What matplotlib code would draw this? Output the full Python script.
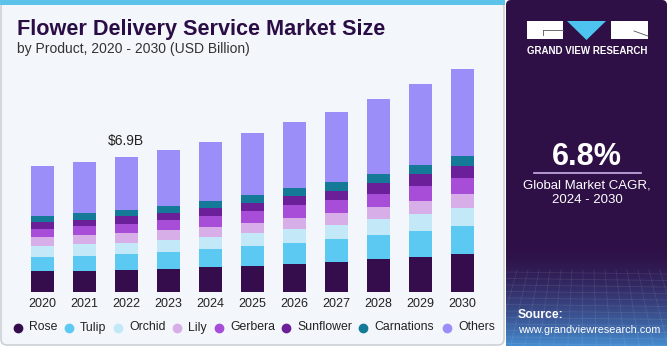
import matplotlib
matplotlib.use('Agg')
import matplotlib.pyplot as plt
import numpy as np
from matplotlib.patches import FancyBboxPatch, Rectangle, Polygon
from matplotlib.lines import Line2D

years = [str(y) for y in range(2020, 2031)]
rose = [1.07, 1.10, 1.15, 1.19, 1.27, 1.35, 1.46, 1.56, 1.68, 1.80, 1.95]
tulip = [0.74, 0.76, 0.80, 0.87, 0.92, 1.00, 1.07, 1.14, 1.22, 1.32, 1.42]
orchid = [0.54, 0.60, 0.58, 0.61, 0.64, 0.68, 0.68, 0.74, 0.81, 0.87, 0.90]
lily = [0.44, 0.44, 0.49, 0.51, 0.51, 0.51, 0.58, 0.60, 0.63, 0.68, 0.73]
gerbera = [0.44, 0.46, 0.46, 0.51, 0.54, 0.60, 0.63, 0.65, 0.68, 0.75, 0.80]
sunflower = [0.34, 0.34, 0.41, 0.37, 0.41, 0.39, 0.46, 0.49, 0.53, 0.58, 0.63]
carnations = [0.31, 0.32, 0.31, 0.34, 0.36, 0.42, 0.41, 0.44, 0.47, 0.49, 0.51]
others = [2.54, 2.61, 2.71, 2.85, 3.00, 3.14, 3.36, 3.58, 3.83, 4.12, 4.41]

segments = ["Rose", "Tulip", "Orchid", "Lily", "Gerbera", "Sunflower", "Carnations", "Others"]
series = [rose, tulip, orchid, lily, gerbera, sunflower, carnations, others]
colors = ["#360d4c", "#5bc9f1", "#c3e9f8", "#d8aee8", "#a74dd7", "#6b1f99", "#147a97", "#9b8ef8"]
highlight_year = "2022"
highlight_label = "$6.9B"

plt.rcParams['font.family'] = ['Liberation Sans', 'DejaVu Sans']

W, H = 671, 350
fig = plt.figure(figsize=(W / 100, H / 100), dpi=100)
fig.patch.set_facecolor('white')

# background / decoration axes in pixel coords
bg = fig.add_axes([0, 0, 1, 1], zorder=0)
bg.axis('off')

card = FancyBboxPatch((1, 1), 503, 344, boxstyle="round,pad=0,rounding_size=6",
                      facecolor="#f3f6fa", edgecolor="#cdd1d6", linewidth=1.2)
bg.add_patch(card)
bg.add_patch(Rectangle((0, 0), 505, 4.5, facecolor="#5ec3ea", edgecolor='none'))

panel = FancyBboxPatch((506, 0), 161, 346, boxstyle="round,pad=0,rounding_size=5",
                       facecolor="#2e0f46", edgecolor='none')
bg.add_patch(panel)
# gradient at bottom of panel
n = 120
grad = np.zeros((n, 1, 4))
c0 = np.array([0x2e, 0x0f, 0x46]) / 255
c1 = np.array([0x45, 0x8c, 0xd0]) / 255
for i in range(n):
    t = (i / (n - 1)) ** 1.8
    grad[i, 0, :3] = c0 * (1 - t) + c1 * t
    grad[i, 0, 3] = 1
bg.imshow(grad, extent=[506, 667, 346, 240], aspect='auto', zorder=1, interpolation='bilinear')
# faint grid texture
for k in range(12):
    yy = 272 + k * 6.5
    bg.add_line(Line2D([506, 667], [yy, yy + 2], color='white', alpha=0.09, lw=0.6, zorder=2))
for k in range(16):
    xx = 506 + k * 11
    bg.add_line(Line2D([xx, xx + (xx - 586) * 0.3], [270, 346], color='white', alpha=0.09, lw=0.6, zorder=2))

# logo
bg.add_patch(Rectangle((527, 21), 36, 18, facecolor='white', edgecolor='none', zorder=3))
bg.add_patch(Rectangle((611, 21), 37, 18, facecolor='white', edgecolor='none', zorder=3))
bg.add_patch(Polygon([[567, 21], [606, 21], [586.5, 40]], closed=True, facecolor='#4ec3ef', edgecolor='none', zorder=3))
bg.add_line(Line2D([543, 563], [30, 30], color='#555', lw=0.6, zorder=4))
bg.add_line(Line2D([543, 543], [30, 35], color='#555', lw=0.6, zorder=4))
bg.add_line(Line2D([634, 648], [31, 36], color='#555', lw=0.6, zorder=4))
bg.text(587.5, 51, "GRAND VIEW RESEARCH", color='white', fontsize=7, fontweight='bold',
        ha='center', va='center', zorder=4)

bg.text(587, 157, "6.8%", color='white', fontsize=22, fontweight='bold', ha='center', va='center', zorder=4)
bg.add_line(Line2D([534, 641], [173, 173], color='#c8b2e8', lw=1.2, zorder=4))
bg.text(587, 186, "Global Market CAGR,", color='white', fontsize=9.5, ha='center', va='center', zorder=4)
bg.text(587, 200, "2024 - 2030", color='white', fontsize=9.5, ha='center', va='center', zorder=4)
bg.text(518, 315, "Source:", color='white', fontsize=8.8, fontweight='bold', ha='left', va='center', zorder=4)
bg.text(518, 330, "www.grandviewresearch.com", color='white', fontsize=7.8, ha='left', va='center', zorder=4)

# titles
bg.text(17, 35, "Flower Delivery Service Market Size", color='#2b0d45', fontsize=15.6,
        fontweight='bold', ha='left', va='baseline', zorder=4)
bg.text(17, 53, "by Product, 2020 - 2030 (USD Billion)", color='#333333', fontsize=10,
        ha='left', va='baseline', zorder=4)

# chart axes
base_px, top_px = 292.3, 60
left_px, right_px = 21.3, 483.5
ax = fig.add_axes([left_px / W, (H - base_px) / H, (right_px - left_px) / W, (base_px - top_px) / H], zorder=2)
ax.patch.set_alpha(0)
x = np.arange(len(years))
bottom = np.zeros(len(years))
for name, vals, col in zip(segments, series, colors):
    ax.bar(x, vals, bottom=bottom, width=0.555, color=col, label=name, edgecolor='none')
    bottom += np.array(vals)
ax.set_xlim(-0.5, len(years) - 0.5)
ax.set_ylim(0, (base_px - top_px) / 19.65)
ax.set_xticks(x)
ax.set_xticklabels(years, fontsize=9, color='#222222')
ax.tick_params(axis='x', length=0, pad=4)
ax.set_yticks([])
for s in ax.spines.values():
    s.set_visible(False)
hi = years.index(highlight_year)
ax.annotate(highlight_label, (x[hi], bottom[hi]), xytext=(0, 11), textcoords='offset points',
            ha='center', va='center', fontsize=10, color='#222222')

# legend
leg_x = [18, 69, 118, 177, 219, 286, 363, 447]
for lx, name, col in zip(leg_x, segments, colors):
    bg.plot([lx], [327.5], marker='o', markersize=6, color=col, zorder=4, linestyle='none')
    bg.text(lx + 11, 327.5, name, fontsize=8.8, color='#222222', ha='left', va='center', zorder=4)

bg.set_xlim(0, W)
bg.set_ylim(H, 0)

fig.savefig('out.png', dpi=100, facecolor=fig.get_facecolor())
